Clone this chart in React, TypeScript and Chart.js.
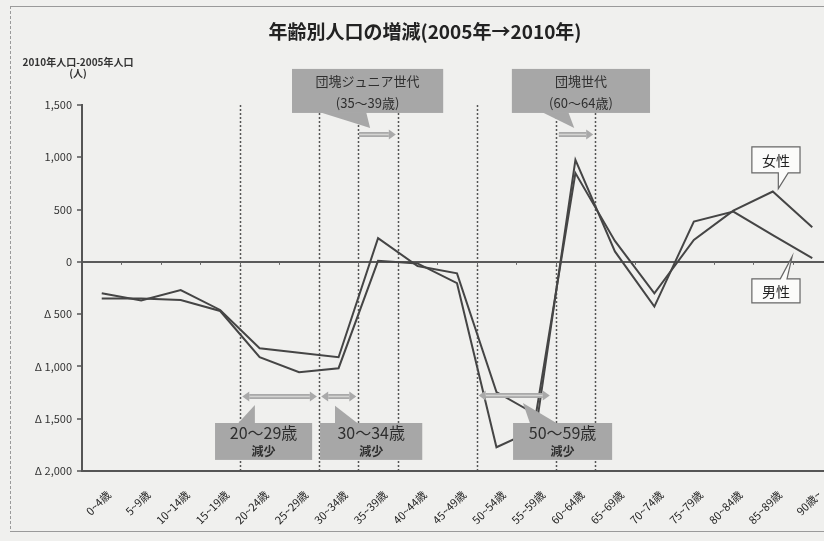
import React, { useEffect, useRef } from 'react';
import { Chart, registerables } from 'chart.js';

Chart.register(...registerables);

// Age groups (5-year bands)
const ageGroups = [
  '0~4歳', '5~9歳', '10~14歳', '15~19歳', '20~24歳', '25~29歳', '30~34歳',
  '35~39歳', '40~44歳', '45~49歳', '50~54歳', '55~59歳', '60~64歳', '65~69歳',
  '70~74歳', '75~79歳', '80~84歳', '85~89歳', '90歳~',
];

// Population change 2005 -> 2010 (persons)
const femaleChange = [
  -300, -370, -270, -460, -826, -870, -912, 227, -40, -110,
  -1245, -1460, 849, 200, -300, 210, 490, 673, 332,
];
const maleChange = [
  -350, -350, -365, -470, -912, -1056, -1017, 10, -15, -204,
  -1773, -1600, 976, 100, -428, 386, 481, 256, 35,
];

const yMin = -2000;
const yMax = 1500;
const yStep = 500;

const chartTitle = '年齢別人口の増減(2005年→2010年)';
const yTitleLines = ['2010年人口-2005年人口', '(人)'];

// Category boundaries (index of the band to the right) marked by dotted lines
const dividerBands = [4, 6, 7, 8, 10, 12, 13];

const FONT = '"Noto Sans CJK JP", "Noto Sans", sans-serif';

function formatTick(v: number): string {
  if (v === 0) return '0';
  const s = Math.abs(v).toLocaleString('en-US');
  return v > 0 ? s : 'Δ ' + s;
}

const decorPlugin = {
  id: 'decor',
  beforeDraw(chart: any) {
    const { ctx, width, height } = chart;
    ctx.save();
    ctx.fillStyle = '#f0f0ee';
    ctx.fillRect(0, 0, width, height);
    // outer frame
    ctx.strokeStyle = '#9a9a9a';
    ctx.lineWidth = 1;
    ctx.beginPath();
    ctx.moveTo(10, 6.5);
    ctx.lineTo(width, 6.5);
    ctx.moveTo(10, 531.5);
    ctx.lineTo(width, 531.5);
    ctx.stroke();
    ctx.setLineDash([3, 2]);
    ctx.beginPath();
    ctx.moveTo(10.5, 6);
    ctx.lineTo(10.5, 532);
    ctx.stroke();
    ctx.setLineDash([]);
    // title
    ctx.fillStyle = '#222';
    ctx.font = 'bold 19px ' + FONT;
    ctx.textAlign = 'center';
    ctx.textBaseline = 'middle';
    ctx.fillText(chartTitle, 425, 32);
    // y-axis title
    ctx.font = 'bold 10px ' + FONT;
    ctx.fillStyle = '#333';
    ctx.fillText(yTitleLines[0], 78, 62);
    ctx.fillText(yTitleLines[1], 78, 73);
    ctx.restore();
  },
  beforeDatasetsDraw(chart: any) {
    const { ctx, chartArea, scales } = chart;
    const xs = scales.x;
    const ys = scales.y;
    const step = xs.getPixelForValue(1) - xs.getPixelForValue(0);
    ctx.save();
    // dotted dividers
    ctx.strokeStyle = '#555';
    ctx.lineWidth = 1.5;
    ctx.setLineDash([2, 2]);
    dividerBands.forEach((b) => {
      const x = Math.round(xs.getPixelForValue(b) - step / 2) + 0.5;
      ctx.beginPath();
      ctx.moveTo(x, chartArea.top);
      ctx.lineTo(x, chartArea.bottom);
      ctx.stroke();
    });
    ctx.setLineDash([]);
    // small marks along the zero line
    const y0 = ys.getPixelForValue(0);
    ctx.strokeStyle = '#666';
    ctx.lineWidth = 1;
    for (let i = 1; i < ageGroups.length; i++) {
      const x = Math.round(xs.getPixelForValue(i) - step / 2) + 0.5;
      ctx.beginPath();
      ctx.moveTo(x, y0);
      ctx.lineTo(x, y0 + 3);
      ctx.stroke();
    }
    ctx.restore();
  },
  afterDatasetsDraw(chart: any) {
    const { ctx, scales } = chart;
    const xs = scales.x;
    const ys = scales.y;
    const p0 = xs.getPixelForValue(0);
    const step = xs.getPixelForValue(1) - p0;
    const X = (u: number) => p0 + u * step;
    const Y = (v: number) => ys.getPixelForValue(v);

    const boxFill = '#a7a7a7';
    const arrowFill = '#a9a9a9';

    const poly = (pts: number[][], fill: string) => {
      ctx.beginPath();
      pts.forEach(([u, v], i) => {
        if (i === 0) ctx.moveTo(X(u), Y(v));
        else ctx.lineTo(X(u), Y(v));
      });
      ctx.closePath();
      ctx.fillStyle = fill;
      ctx.fill();
    };

    const box = (u1: number, u2: number, v1: number, v2: number, lines: { t: string; f: string }[]) => {
      const x1 = X(u1), x2 = X(u2), y1 = Y(v1), y2 = Y(v2);
      ctx.fillStyle = boxFill;
      ctx.fillRect(x1, y1, x2 - x1, y2 - y1);
      ctx.fillStyle = '#2e2e2e';
      ctx.textAlign = 'center';
      ctx.textBaseline = 'middle';
      const h = (y2 - y1) / lines.length;
      lines.forEach((l, i) => {
        ctx.font = l.f;
        ctx.fillText(l.t, (x1 + x2) / 2, y1 + h * (i + 0.5) + 1);
      });
    };

    const arrow = (u1: number, u2: number, v: number, both: boolean) => {
      const x1 = X(u1), x2 = X(u2), y = Math.round(Y(v)) + 0.5;
      const head = 7;
      const sx1 = both ? x1 + head : x1;
      const sx2 = x2 - head;
      ctx.strokeStyle = arrowFill;
      ctx.lineWidth = 5;
      ctx.beginPath();
      ctx.moveTo(sx1, y);
      ctx.lineTo(sx2, y);
      ctx.stroke();
      ctx.strokeStyle = '#d4d4d2';
      ctx.lineWidth = 1.5;
      ctx.beginPath();
      ctx.moveTo(sx1, y);
      ctx.lineTo(sx2, y);
      ctx.stroke();
      ctx.fillStyle = arrowFill;
      ctx.beginPath();
      ctx.moveTo(x2, y);
      ctx.lineTo(sx2, y - 5);
      ctx.lineTo(sx2, y + 5);
      ctx.closePath();
      ctx.fill();
      if (both) {
        ctx.beginPath();
        ctx.moveTo(x1, y);
        ctx.lineTo(sx1, y - 5);
        ctx.lineTo(sx1, y + 5);
        ctx.closePath();
        ctx.fill();
      }
    };

    const callout = (u1: number, u2: number, v1: number, v2: number, tail: number[][], text: string, tailOnTop: boolean) => {
      const x1 = X(u1), x2 = X(u2), y1 = Y(v1), y2 = Y(v2);
      ctx.beginPath();
      if (tailOnTop) {
        ctx.moveTo(x1, y1);
        ctx.lineTo(X(tail[0][0]), y1);
        ctx.lineTo(X(tail[1][0]), Y(tail[1][1]));
        ctx.lineTo(X(tail[2][0]), y1);
        ctx.lineTo(x2, y1);
        ctx.lineTo(x2, y2);
        ctx.lineTo(x1, y2);
      } else {
        ctx.moveTo(x1, y1);
        ctx.lineTo(x2, y1);
        ctx.lineTo(x2, y2);
        ctx.lineTo(X(tail[2][0]), y2);
        ctx.lineTo(X(tail[1][0]), Y(tail[1][1]));
        ctx.lineTo(X(tail[0][0]), y2);
        ctx.lineTo(x1, y2);
      }
      ctx.closePath();
      ctx.fillStyle = '#fbfbfa';
      ctx.fill();
      ctx.strokeStyle = '#666';
      ctx.lineWidth = 1.2;
      ctx.stroke();
      ctx.fillStyle = '#222';
      ctx.font = '14px ' + FONT;
      ctx.textAlign = 'center';
      ctx.textBaseline = 'middle';
      ctx.fillText(text, (x1 + x2) / 2, (y1 + y2) / 2 + 1);
    };

    ctx.save();

    // 団塊ジュニア世代
    poly([[5.53, 1430], [6.70, 1430], [6.80, 1280]], boxFill);
    box(4.82, 8.65, 1845, 1424, [
      { t: '団塊ジュニア世代', f: '13px ' + FONT },
      { t: '(35～39歳)', f: '13px ' + FONT },
    ]);
    arrow(6.52, 7.45, 1223, false);

    // 団塊世代
    poly([[11.16, 1430], [11.82, 1430], [11.97, 1280]], boxFill);
    box(10.39, 13.89, 1845, 1424, [
      { t: '団塊世代', f: '13px ' + FONT },
      { t: '(60～64歳)', f: '13px ' + FONT },
    ]);
    arrow(11.58, 12.45, 1223, false);

    // decrease bands
    arrow(3.56, 5.45, -1282, true);
    arrow(5.56, 6.45, -1282, true);
    arrow(9.55, 11.35, -1272, true);

    poly([[3.88, -1368], [3.45, -1545], [3.88, -1545]], boxFill);
    box(2.87, 5.33, -1541, -1894, [
      { t: '20～29歳', f: '16px ' + FONT },
      { t: '減少', f: 'bold 12px ' + FONT },
    ]);
    poly([[5.91, -1377], [5.91, -1545], [6.49, -1545]], boxFill);
    box(5.53, 8.12, -1541, -1894, [
      { t: '30～34歳', f: '16px ' + FONT },
      { t: '減少', f: 'bold 12px ' + FONT },
    ]);
    poly([[10.67, -1349], [10.85, -1545], [11.54, -1545]], boxFill);
    box(10.42, 12.93, -1541, -1894, [
      { t: '50～59歳', f: '16px ' + FONT },
      { t: '減少', f: 'bold 12px ' + FONT },
    ]);

    // series labels
    callout(16.47, 17.69, 1099, 850, [[17.14, 0], [17.14, 700], [17.39, 0]], '女性', false);
    callout(16.47, 17.69, -163, -393, [[17.19, 0], [17.49, 50], [17.36, 0]], '男性', true);

    ctx.restore();
  },
};

export default function App() {
  const canvasRef = useRef<HTMLCanvasElement | null>(null);

  useEffect(() => {
    const canvas = canvasRef.current;
    if (!canvas) return;
    const chart = new Chart(canvas, {
      type: 'line',
      data: {
        labels: ageGroups,
        datasets: [
          {
            label: '女性',
            data: femaleChange,
            borderColor: '#454545',
            borderWidth: 2,
            pointRadius: 0,
            tension: 0,
            fill: false,
          },
          {
            label: '男性',
            data: maleChange,
            borderColor: '#454545',
            borderWidth: 2,
            pointRadius: 0,
            tension: 0,
            fill: false,
          },
        ],
      },
      options: {
        responsive: false,
        animation: false,
        devicePixelRatio: 1,
        layout: { padding: { top: 105, right: 8, left: 0, bottom: 0 } },
        plugins: {
          legend: { display: false },
          title: { display: false },
          tooltip: { enabled: false },
        },
        scales: {
          x: {
            type: 'category',
            offset: true,
            grid: { display: false },
            border: { display: true, color: '#555', width: 2 },
            ticks: {
              autoSkip: false,
              maxRotation: 45,
              minRotation: 45,
              padding: 9,
              labelOffset: 7,
              color: '#222',
              font: { family: FONT, size: 11 },
            },
            afterFit: (s: any) => {
              s.height = 70;
            },
          },
          y: {
            min: yMin,
            max: yMax,
            ticks: {
              stepSize: yStep,
              padding: 5,
              color: '#333',
              font: { family: FONT, size: 11 },
              callback: (v: any) => formatTick(Number(v)),
            },
            grid: {
              drawOnChartArea: true,
              color: (c: any) => (c.tick && c.tick.value === 0 ? '#5a5a5a' : 'rgba(0,0,0,0)'),
              lineWidth: 2,
              tickColor: '#555',
              tickLength: 5,
              tickWidth: 1.5,
            },
            border: { display: true, color: '#555', width: 2 },
            afterFit: (s: any) => {
              s.width = 82;
            },
          },
        },
      },
      plugins: [decorPlugin],
    });
    return () => chart.destroy();
  }, []);

  return (
    <div
      style={{
        position: 'fixed',
        left: 0,
        top: 0,
        width: 824,
        height: 541,
        overflow: 'hidden',
        background: '#f0f0ee',
      }}
    >
      <canvas
        ref={canvasRef}
        width={840}
        height={541}
        style={{ position: 'absolute', left: 0, top: 0, width: 840, height: 541 }}
      />
    </div>
  );
}
